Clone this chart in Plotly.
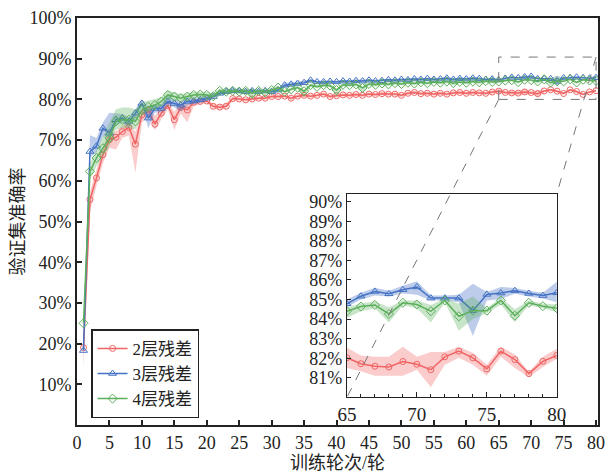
import plotly.graph_objects as go

epochs = list(range(1, 81))

red_val = [19.0, 55.4, 60.7, 66.4, 70.1, 70.7, 72.1, 73.1, 69.0, 76.2,
           77.4, 73.9, 76.6, 78.5, 75.0, 78.0, 77.4, 79.3, 79.5, 79.6,
           78.3, 78.1, 78.3, 80.2, 80.1, 79.9, 80.1, 80.3, 80.3, 80.7,
           80.7, 80.8, 80.3, 80.8, 81.0, 80.8, 81.0, 81.3, 80.7, 80.9,
           81.1, 81.0, 81.2, 81.0, 81.3, 81.2, 81.4, 81.3, 81.3, 81.0,
           81.5, 81.7, 81.4, 81.5, 81.3, 81.5, 81.3, 81.6, 81.7, 81.5,
           81.7, 81.6, 81.5, 81.8, 82.02, 81.72, 81.59, 81.55, 81.83, 81.69,
           81.41, 82.07, 82.36, 82.02, 81.45, 82.36, 81.93, 81.21, 81.84, 82.14]
red_dn = [5.0, 3.0, 2.0, 2.0, 2.0, 3.0, 1.5, 2.0, 7.0, 2.0,
          1.5, 1.5, 1.5, 1.0, 2.5, 1.5, 3.0, 1.0, 0.6, 0.5,
          0.6, 0.6, 0.6, 0.5, 0.4, 0.4, 0.4, 0.4, 0.4, 0.4,
          0.4, 0.4, 0.5, 0.4, 0.4, 0.4, 0.4, 0.4, 0.5, 0.4,
          0.4, 0.4, 0.4, 0.4, 0.4, 0.4, 0.4, 0.4, 0.4, 0.4,
          0.4, 0.4, 0.4, 0.4, 0.4, 0.4, 0.4, 0.4, 0.4, 0.4,
          0.4, 0.4, 0.4, 0.4, 0.52, 0.39, 0.49, 0.45, 0.73, 0.28,
          0.89, 0.40, 0.34, 0.35, 0.35, 0.29, 0.43, 0.18, 0.29, 0.17]
red_up = [1.0, 2.0, 2.0, 2.0, 1.5, 1.5, 1.5, 1.5, 3.0, 1.5,
          1.0, 2.0, 1.5, 1.0, 2.0, 1.0, 1.5, 0.7, 0.6, 0.5,
          0.6, 0.6, 0.8, 0.5, 0.4, 0.4, 0.4, 0.4, 0.4, 0.4,
          0.4, 0.4, 0.4, 0.4, 0.4, 0.4, 0.4, 0.4, 0.4, 0.4,
          0.4, 0.4, 0.4, 0.4, 0.4, 0.4, 0.4, 0.4, 0.4, 0.4,
          0.4, 0.4, 0.4, 0.4, 0.4, 0.4, 0.4, 0.4, 0.4, 0.4,
          0.4, 0.4, 0.4, 0.4, 0.51, 0.42, 0.48, 0.52, 0.76, 0.38,
          0.90, 0.24, 0.23, 0.26, 0.22, 0.23, 0.26, 0.10, 0.23, 0.34]

blue_val = [18.3, 67.2, 68.5, 72.9, 71.7, 75.0, 75.4, 74.6, 76.6, 79.0,
            75.4, 77.8, 77.8, 79.5, 79.0, 78.6, 79.5, 79.6, 79.9, 80.3,
            80.7, 81.5, 81.9, 82.1, 82.1, 81.9, 82.1, 81.9, 82.1, 81.9,
            82.3, 83.5, 83.7, 83.9, 84.1, 84.7, 84.3, 84.3, 84.4, 84.3,
            84.5, 84.4, 84.6, 84.5, 84.7, 84.5, 84.6, 84.8, 84.7, 84.9,
            84.8, 85.0, 84.9, 85.1, 84.9, 85.0, 85.2, 84.9, 85.1, 85.0,
            85.2, 85.1, 84.9, 85.0, 84.78, 85.17, 85.41, 85.29, 85.50, 85.64,
            85.07, 85.07, 85.07, 84.43, 85.26, 85.33, 85.45, 85.31, 85.20, 85.34]
blue_dn = [1.0, 1.5, 1.5, 2.0, 1.0, 1.5, 1.0, 1.5, 1.5, 1.0,
           2.5, 1.0, 1.0, 1.0, 1.0, 1.5, 1.0, 0.7, 0.7, 0.6,
           0.5, 0.5, 0.5, 0.5, 0.5, 0.5, 0.5, 0.5, 0.5, 0.5,
           0.5, 0.5, 0.5, 0.5, 0.5, 0.3, 0.3, 0.3, 0.3, 0.3,
           0.3, 0.3, 0.3, 0.3, 0.3, 0.3, 0.3, 0.3, 0.3, 0.3,
           0.3, 0.3, 0.3, 0.3, 0.3, 0.3, 0.3, 0.3, 0.3, 0.3,
           0.3, 0.3, 0.3, 0.3, 0.18, 0.17, 0.21, 0.14, 0.20, 0.40,
           0.12, 0.12, 0.21, 1.29, 0.31, 0.30, 0.16, 0.16, 0.15, 0.48]
blue_up = [1.0, 4.0, 2.0, 1.5, 5.0, 1.5, 1.0, 1.0, 1.0, 1.0,
           2.5, 1.0, 1.0, 1.5, 1.0, 1.0, 1.0, 0.7, 0.7, 0.6,
           0.5, 0.5, 0.5, 0.5, 0.5, 0.5, 0.5, 0.5, 0.5, 0.5,
           0.5, 0.5, 0.5, 0.5, 0.5, 0.3, 0.3, 0.3, 0.3, 0.3,
           0.3, 0.3, 0.3, 0.3, 0.3, 0.3, 0.3, 0.3, 0.3, 0.3,
           0.3, 0.3, 0.3, 0.3, 0.3, 0.3, 0.3, 0.3, 0.3, 0.3,
           0.3, 0.3, 0.3, 0.3, 0.22, 0.18, 0.19, 0.16, 0.20, 0.29,
           0.13, 0.13, 0.17, 1.37, 0.12, 0.31, 0.14, 0.14, 0.15, 0.56]

green_val = [25.0, 62.3, 65.6, 68.0, 70.5, 74.6, 75.0, 75.0, 74.6, 77.4,
             78.2, 78.6, 79.5, 81.1, 80.7, 80.3, 80.7, 81.1, 81.2, 81.1,
             80.8, 82.1, 81.9, 82.1, 81.9, 82.1, 81.5, 82.1, 81.7, 82.3,
             82.9, 81.9, 82.5, 82.9, 82.0, 83.5, 83.1, 83.5, 83.4, 82.3,
             83.6, 83.5, 83.7, 82.8, 83.8, 83.6, 83.9, 83.7, 84.0, 83.8,
             84.1, 83.9, 84.2, 84.0, 84.3, 84.1, 84.4, 84.0, 84.3, 84.1,
             84.4, 84.2, 84.5, 84.3, 84.40, 84.64, 84.72, 84.26, 84.83, 84.74,
             84.40, 84.95, 84.14, 84.43, 84.43, 84.95, 84.17, 84.83, 84.66, 84.55]
green_dn = [1.0, 2.0, 2.0, 2.0, 2.0, 2.0, 2.0, 2.0, 2.0, 1.5,
            1.0, 1.0, 1.0, 1.0, 1.0, 0.8, 0.8, 0.8, 0.7, 0.7,
            0.6, 0.6, 0.6, 0.6, 0.6, 0.6, 1.5, 0.6, 0.6, 0.6,
            0.4, 0.4, 0.4, 0.4, 1.5, 0.4, 0.4, 0.4, 0.4, 1.5,
            0.4, 0.4, 0.4, 1.0, 0.4, 0.4, 0.4, 0.4, 0.4, 0.4,
            0.4, 0.4, 0.4, 0.4, 0.4, 0.4, 0.4, 0.5, 0.4, 0.4,
            0.4, 0.4, 0.4, 0.4, 0.35, 0.24, 0.17, 0.43, 0.13, 0.19,
            0.57, 0.10, 0.74, 0.43, 0.13, 0.20, 0.32, 0.13, 0.11, 0.20]
green_up = [1.0, 2.0, 2.0, 3.0, 4.0, 3.0, 3.0, 3.0, 3.0, 2.0,
            1.5, 1.5, 1.0, 1.0, 1.0, 1.0, 0.8, 0.8, 0.7, 0.7,
            0.6, 0.6, 0.6, 0.6, 0.6, 0.6, 0.6, 0.6, 0.6, 0.6,
            0.4, 0.4, 0.4, 0.4, 0.4, 0.4, 0.4, 0.4, 0.4, 0.4,
            0.4, 0.4, 0.4, 0.4, 0.4, 0.4, 0.4, 0.4, 0.4, 0.4,
            0.4, 0.4, 0.4, 0.4, 0.4, 0.4, 0.4, 0.4, 0.4, 0.4,
            0.4, 0.4, 0.4, 0.4, 0.20, 0.16, 0.18, 0.34, 0.12, 0.21,
            0.32, 0.10, 0.64, 0.72, 0.12, 0.15, 0.33, 0.12, 0.14, 0.20]

names = ["2层残差", "3层残差", "4层残差"]
main_ticks = [10, 20, 30, 40, 50, 60, 70, 80, 90, 100]
main_ticktext = ["10%", "20%", "30%", "40%", "50%", "60%", "70%", "80%", "90%", "100%"]
inset_ticks = [81, 82, 83, 84, 85, 86, 87, 88, 89, 90]
inset_ticktext = ["81%", "82%", "83%", "84%", "85%", "86%", "87%", "88%", "89%", "90%"]
x_title = "训练轮次/轮"
y_title = "验证集准确率"
zoom_start = 65

series = [
    (names[0], red_val, red_dn, red_up, "#F06464", "rgba(240,100,100,0.33)", "circle-open", 6),
    (names[1], blue_val, blue_dn, blue_up, "#4472C4", "rgba(68,114,196,0.36)", "triangle-up-open", 7),
    (names[2], green_val, green_dn, green_up, "#5BAF5B", "rgba(91,175,91,0.33)", "diamond-open", 7),
]

FONT = "Liberation Serif, Noto Sans CJK SC, serif"
fig = go.Figure()

def add_series(xs, vals, dn, up, color, fill, sym, msize, name, xa, ya, legend):
    lo = [v - d for v, d in zip(vals, dn)]
    hi = [v + u for v, u in zip(vals, up)]
    fig.add_trace(go.Scatter(x=xs + xs[::-1], y=hi + lo[::-1], fill="toself",
                             fillcolor=fill, line=dict(width=0), mode="lines",
                             hoverinfo="skip", showlegend=False, xaxis=xa, yaxis=ya))
    fig.add_trace(go.Scatter(x=xs, y=vals, mode="lines+markers", name=name,
                             line=dict(color=color, width=1.5),
                             marker=dict(symbol=sym, size=msize, color=color, line=dict(width=1, color=color)),
                             showlegend=legend, xaxis=xa, yaxis=ya))

for name, vals, dn, up, color, fill, sym, ms in series:
    add_series(epochs, vals, dn, up, color, fill, sym, ms, name, "x", "y", True)

i0 = epochs.index(zoom_start)
for name, vals, dn, up, color, fill, sym, ms in series:
    add_series(epochs[i0:], vals[i0:], dn[i0:], up[i0:], color, fill, sym, ms, name, "x2", "y2", False)

xr = [0, 80.3]
yr = [0, 100]
xr2 = [65, 80]
yr2 = [80, 90.4]
dx = [0.518, 0.921]
dy = [0.068, 0.568]

fig.update_layout(
    width=607, height=467,
    margin=dict(l=69, r=17, t=10, b=50, autoexpand=False),
    plot_bgcolor="white", paper_bgcolor="white",
    font=dict(family=FONT, size=18, color="#222"),
    xaxis=dict(range=xr, domain=[0, 1], tickmode="linear", tick0=0, dtick=5,
               ticks="inside", ticklen=5, tickwidth=1.5, tickcolor="#222",
               showline=True, linewidth=2, linecolor="#222", mirror=True,
               showgrid=False, zeroline=False, automargin=False, ticklabeloverflow="allow",
               title=dict(text=x_title, font=dict(size=18), standoff=2)),
    yaxis=dict(range=yr, domain=[0, 1], tickvals=main_ticks, ticktext=main_ticktext,
               ticks="inside", ticklen=5, tickwidth=1.5, tickcolor="#222",
               showline=True, linewidth=2, linecolor="#222", mirror=True,
               showgrid=False, zeroline=False, automargin=False, ticklabeloverflow="allow",
               title=dict(text=y_title, font=dict(size=18), standoff=4)),
    xaxis2=dict(range=xr2, domain=dx, anchor="y2", tickvals=[65, 70, 75, 80],
                ticks="inside", ticklen=5, tickwidth=1, tickcolor="#222",
                minor=dict(dtick=1, ticks="inside", ticklen=3, tickcolor="#222"),
                showline=True, linewidth=1, linecolor="#222", mirror=True,
                showgrid=False, zeroline=False, tickfont=dict(size=19), automargin=False,
                ticklabeloverflow="allow"),
    yaxis2=dict(range=yr2, domain=dy, anchor="x2", tickvals=inset_ticks, ticktext=inset_ticktext,
                ticks="inside", ticklen=4, tickwidth=1, tickcolor="#222",
                showline=True, linewidth=1, linecolor="#222", mirror=True,
                showgrid=False, zeroline=False, automargin=False, ticklabeloverflow="allow"),
    legend=dict(x=0.027, y=0.235, xanchor="left", yanchor="top",
                bgcolor="white", bordercolor="#222", borderwidth=1.5,
                font=dict(size=17), tracegroupgap=0, itemwidth=30),
    showlegend=True,
)

fig.add_shape(type="rect", xref="x", yref="y", x0=xr2[0], x1=xr2[1], y0=yr2[0], y1=yr2[1],
              line=dict(color="#777", width=1, dash="dash"), layer="above")

def paper_to_data(px, py):
    return (xr[0] + px * (xr[1] - xr[0]), yr[0] + py * (yr[1] - yr[0]))

bl = paper_to_data(dx[0], dy[0])
tr = paper_to_data(dx[1], dy[1])
fig.add_shape(type="line", xref="x", yref="y", x0=xr2[0], y0=yr2[0], x1=bl[0], y1=bl[1],
              line=dict(color="#777", width=1, dash="dash"), layer="above")
fig.add_shape(type="line", xref="x", yref="y", x0=xr2[1], y0=yr2[1], x1=tr[0], y1=tr[1],
              line=dict(color="#777", width=1, dash="dash"), layer="above")

fig.write_html("out.html")
